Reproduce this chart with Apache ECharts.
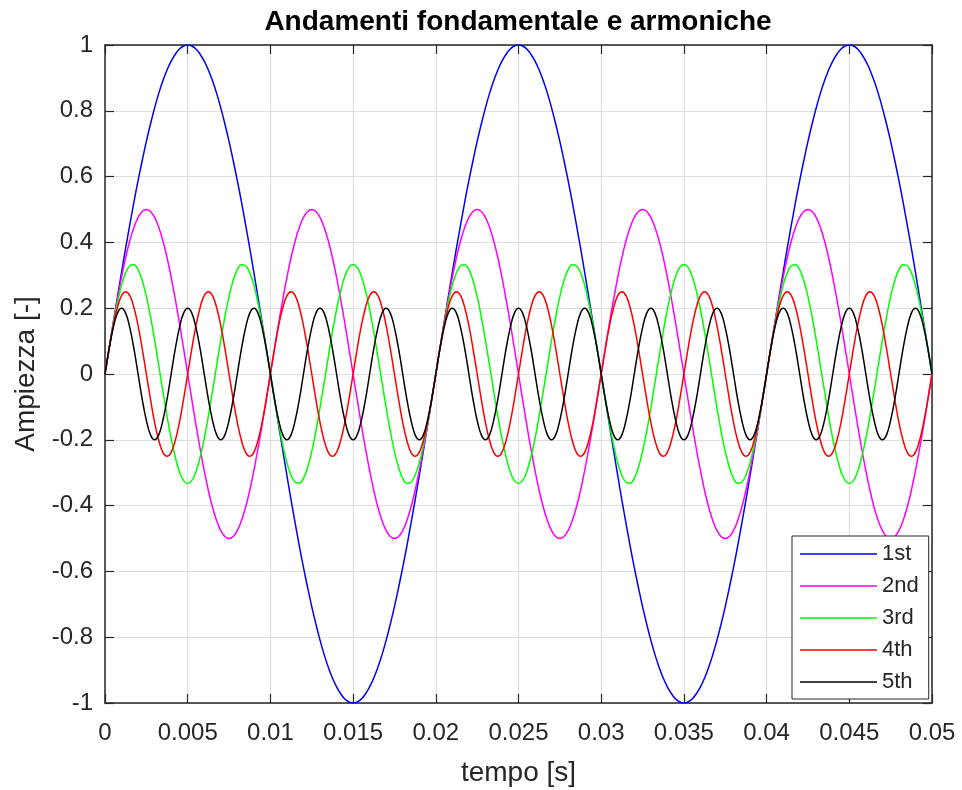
<!DOCTYPE html>
<html>
<head>
<meta charset="utf-8">
<script src="https://cdn.jsdelivr.net/npm/echarts@6/dist/echarts.min.js"></script>
<style>html,body{margin:0;padding:0;background:#fff;}#chart{width:962px;height:790px;}</style>
</head>
<body>
<div id="chart"></div>
<script>
const seriesNames = ['1st', '2nd', '3rd', '4th', '5th'];
const xTickLabels = ['0','0.005','0.01','0.015','0.02','0.025','0.03','0.035','0.04','0.045','0.05'];
const yTickLabels = ['-1','-0.8','-0.6','-0.4','-0.2','0','0.2','0.4','0.6','0.8','1'];

const time = [
0,.00025,.0005,.00075,.001,.00125,.0015,.00175,.002,.00225,.0025,.00275,.003,.00325,.0035,.00375,
.004,.00425,.0045,.00475,.005,.00525,.0055,.00575,.006,.00625,.0065,.00675,.007,.00725,.0075,.00775,
.008,.00825,.0085,.00875,.009,.00925,.0095,.00975,.01,.01025,.0105,.01075,.011,.01125,.0115,.01175,
.012,.01225,.0125,.01275,.013,.01325,.0135,.01375,.014,.01425,.0145,.01475,.015,.01525,.0155,.01575,
.016,.01625,.0165,.01675,.017,.01725,.0175,.01775,.018,.01825,.0185,.01875,.019,.01925,.0195,.01975,
.02,.02025,.0205,.02075,.021,.02125,.0215,.02175,.022,.02225,.0225,.02275,.023,.02325,.0235,.02375,
.024,.02425,.0245,.02475,.025,.02525,.0255,.02575,.026,.02625,.0265,.02675,.027,.02725,.0275,.02775,
.028,.02825,.0285,.02875,.029,.02925,.0295,.02975,.03,.03025,.0305,.03075,.031,.03125,.0315,.03175,
.032,.03225,.0325,.03275,.033,.03325,.0335,.03375,.034,.03425,.0345,.03475,.035,.03525,.0355,.03575,
.036,.03625,.0365,.03675,.037,.03725,.0375,.03775,.038,.03825,.0385,.03875,.039,.03925,.0395,.03975,
.04,.04025,.0405,.04075,.041,.04125,.0415,.04175,.042,.04225,.0425,.04275,.043,.04325,.0435,.04375,
.044,.04425,.0445,.04475,.045,.04525,.0455,.04575,.046,.04625,.0465,.04675,.047,.04725,.0475,.04775,
.048,.04825,.0485,.04875,.049,.04925,.0495,.04975,.05
];

const y1st = [
0,.078,.156,.233,.309,.383,.454,.523,.588,.649,.707,.760,.809,.853,.891,.924,.951,.972,.988,.997,1,.997,.988,.972,.951,.924,.891,.853,.809,.760,.707,.649,.588,.523,.454,.383,.309,.233,.156,.078,
0,-.078,-.156,-.233,-.309,-.383,-.454,-.523,-.588,-.649,-.707,-.760,-.809,-.853,-.891,-.924,-.951,-.972,-.988,-.997,-1,-.997,-.988,-.972,-.951,-.924,-.891,-.853,-.809,-.760,-.707,-.649,-.588,-.523,-.454,-.383,-.309,-.233,-.156,-.078,
0,.078,.156,.233,.309,.383,.454,.523,.588,.649,.707,.760,.809,.853,.891,.924,.951,.972,.988,.997,1,.997,.988,.972,.951,.924,.891,.853,.809,.760,.707,.649,.588,.523,.454,.383,.309,.233,.156,.078,
0,-.078,-.156,-.233,-.309,-.383,-.454,-.523,-.588,-.649,-.707,-.760,-.809,-.853,-.891,-.924,-.951,-.972,-.988,-.997,-1,-.997,-.988,-.972,-.951,-.924,-.891,-.853,-.809,-.760,-.707,-.649,-.588,-.523,-.454,-.383,-.309,-.233,-.156,-.078,
0,.078,.156,.233,.309,.383,.454,.523,.588,.649,.707,.760,.809,.853,.891,.924,.951,.972,.988,.997,1,.997,.988,.972,.951,.924,.891,.853,.809,.760,.707,.649,.588,.523,.454,.383,.309,.233,.156,.078,
0
];

const y2nd = [
0,.078,.155,.227,.294,.354,.405,.446,.476,.494,.5,.494,.476,.446,.405,.354,.294,.227,.155,.078,0,-.078,-.155,-.227,-.294,-.354,-.405,-.446,-.476,-.494,-.5,-.494,-.476,-.446,-.405,-.354,-.294,-.227,-.155,-.078,
0,.078,.155,.227,.294,.354,.405,.446,.476,.494,.5,.494,.476,.446,.405,.354,.294,.227,.155,.078,0,-.078,-.155,-.227,-.294,-.354,-.405,-.446,-.476,-.494,-.5,-.494,-.476,-.446,-.405,-.354,-.294,-.227,-.155,-.078,
0,.078,.155,.227,.294,.354,.405,.446,.476,.494,.5,.494,.476,.446,.405,.354,.294,.227,.155,.078,0,-.078,-.155,-.227,-.294,-.354,-.405,-.446,-.476,-.494,-.5,-.494,-.476,-.446,-.405,-.354,-.294,-.227,-.155,-.078,
0,.078,.155,.227,.294,.354,.405,.446,.476,.494,.5,.494,.476,.446,.405,.354,.294,.227,.155,.078,0,-.078,-.155,-.227,-.294,-.354,-.405,-.446,-.476,-.494,-.5,-.494,-.476,-.446,-.405,-.354,-.294,-.227,-.155,-.078,
0,.078,.155,.227,.294,.354,.405,.446,.476,.494,.5,.494,.476,.446,.405,.354,.294,.227,.155,.078,0,-.078,-.155,-.227,-.294,-.354,-.405,-.446,-.476,-.494,-.5,-.494,-.476,-.446,-.405,-.354,-.294,-.227,-.155,-.078,
0
];

const y3rd = [
0,.078,.151,.216,.270,.308,.329,.332,.317,.284,.236,.174,.103,.026,-.052,-.128,-.196,-.253,-.297,-.324,-.333,-.324,-.297,-.253,-.196,-.128,-.052,.026,.103,.174,.236,.284,.317,.332,.329,.308,.270,.216,.151,.078,
0,-.078,-.151,-.216,-.270,-.308,-.329,-.332,-.317,-.284,-.236,-.174,-.103,-.026,.052,.128,.196,.253,.297,.324,.333,.324,.297,.253,.196,.128,.052,-.026,-.103,-.174,-.236,-.284,-.317,-.332,-.329,-.308,-.270,-.216,-.151,-.078,
0,.078,.151,.216,.270,.308,.329,.332,.317,.284,.236,.174,.103,.026,-.052,-.128,-.196,-.253,-.297,-.324,-.333,-.324,-.297,-.253,-.196,-.128,-.052,.026,.103,.174,.236,.284,.317,.332,.329,.308,.270,.216,.151,.078,
0,-.078,-.151,-.216,-.270,-.308,-.329,-.332,-.317,-.284,-.236,-.174,-.103,-.026,.052,.128,.196,.253,.297,.324,.333,.324,.297,.253,.196,.128,.052,-.026,-.103,-.174,-.236,-.284,-.317,-.332,-.329,-.308,-.270,-.216,-.151,-.078,
0,.078,.151,.216,.270,.308,.329,.332,.317,.284,.236,.174,.103,.026,-.052,-.128,-.196,-.253,-.297,-.324,-.333,-.324,-.297,-.253,-.196,-.128,-.052,.026,.103,.174,.236,.284,.317,.332,.329,.308,.270,.216,.151,.078,
0
];

const y4th = [
0,.077,.147,.202,.238,.25,.238,.202,.147,.077,0,-.077,-.147,-.202,-.238,-.25,-.238,-.202,-.147,-.077,
0,.077,.147,.202,.238,.25,.238,.202,.147,.077,0,-.077,-.147,-.202,-.238,-.25,-.238,-.202,-.147,-.077,
0,.077,.147,.202,.238,.25,.238,.202,.147,.077,0,-.077,-.147,-.202,-.238,-.25,-.238,-.202,-.147,-.077,
0,.077,.147,.202,.238,.25,.238,.202,.147,.077,0,-.077,-.147,-.202,-.238,-.25,-.238,-.202,-.147,-.077,
0,.077,.147,.202,.238,.25,.238,.202,.147,.077,0,-.077,-.147,-.202,-.238,-.25,-.238,-.202,-.147,-.077,
0,.077,.147,.202,.238,.25,.238,.202,.147,.077,0,-.077,-.147,-.202,-.238,-.25,-.238,-.202,-.147,-.077,
0,.077,.147,.202,.238,.25,.238,.202,.147,.077,0,-.077,-.147,-.202,-.238,-.25,-.238,-.202,-.147,-.077,
0,.077,.147,.202,.238,.25,.238,.202,.147,.077,0,-.077,-.147,-.202,-.238,-.25,-.238,-.202,-.147,-.077,
0,.077,.147,.202,.238,.25,.238,.202,.147,.077,0,-.077,-.147,-.202,-.238,-.25,-.238,-.202,-.147,-.077,
0,.077,.147,.202,.238,.25,.238,.202,.147,.077,0,-.077,-.147,-.202,-.238,-.25,-.238,-.202,-.147,-.077,
0
];

const y5th = [
0,.077,.141,.185,.2,.185,.141,.077,0,-.077,-.141,-.185,-.2,-.185,-.141,-.077,
0,.077,.141,.185,.2,.185,.141,.077,0,-.077,-.141,-.185,-.2,-.185,-.141,-.077,
0,.077,.141,.185,.2,.185,.141,.077,0,-.077,-.141,-.185,-.2,-.185,-.141,-.077,
0,.077,.141,.185,.2,.185,.141,.077,0,-.077,-.141,-.185,-.2,-.185,-.141,-.077,
0,.077,.141,.185,.2,.185,.141,.077,0,-.077,-.141,-.185,-.2,-.185,-.141,-.077,
0,.077,.141,.185,.2,.185,.141,.077,0,-.077,-.141,-.185,-.2,-.185,-.141,-.077,
0,.077,.141,.185,.2,.185,.141,.077,0,-.077,-.141,-.185,-.2,-.185,-.141,-.077,
0,.077,.141,.185,.2,.185,.141,.077,0,-.077,-.141,-.185,-.2,-.185,-.141,-.077,
0,.077,.141,.185,.2,.185,.141,.077,0,-.077,-.141,-.185,-.2,-.185,-.141,-.077,
0,.077,.141,.185,.2,.185,.141,.077,0,-.077,-.141,-.185,-.2,-.185,-.141,-.077,
0,.077,.141,.185,.2,.185,.141,.077,0,-.077,-.141,-.185,-.2,-.185,-.141,-.077,
0,.077,.141,.185,.2,.185,.141,.077,0,-.077,-.141,-.185,-.2,-.185,-.141,-.077,
0,.077,.141,.185,.2,.185,.141,.077,0
];

const allValues = [y1st, y2nd, y3rd, y4th, y5th];
const colors = ['#0000ff', '#ff00ff', '#00ff00', '#ff0000', '#000000'];

const FONT = "'Liberation Sans', Arial, Helvetica, sans-serif";
const TXT = '#262626';
const AX = '#262626';

const chart = echarts.init(document.getElementById('chart'), null, {renderer: 'canvas'});

const series = seriesNames.map((name, s) => ({
  name: name,
  type: 'line',
  data: time.map((t, i) => [t, allValues[s][i]]),
  showSymbol: false,
  symbol: 'none',
  smooth: 0.4,
  lineStyle: {color: colors[s], width: 1.5},
  itemStyle: {color: colors[s]},
  emphasis: {disabled: true},
  animation: false,
  z: 2
}));

const baseX = {
  type: 'value', min: 0, max: 0.05, interval: 0.005
};
const baseY = {
  type: 'value', min: -1, max: 1, interval: 0.2
};

chart.setOption({
  animation: false,
  backgroundColor: '#ffffff',
  title: {
    text: 'Andamenti fondamentale e armoniche',
    left: 518,
    top: 8,
    padding: 0,
    textAlign: 'center',
    textStyle: {fontFamily: FONT, fontSize: 28, fontWeight: 'bold', color: '#000000'}
  },
  grid: {left: 105, top: 45, right: 30, bottom: 87, containLabel: false, outerBoundsMode: 'none'},
  legend: {
    orient: 'vertical',
    left: 792,
    top: 536,
    padding: [7, 10, 6, 8],
    icon: 'rect',
    itemWidth: 77,
    itemHeight: 1.5,
    itemGap: 10,
    backgroundColor: '#ffffff',
    borderColor: '#262626',
    borderWidth: 1,
    textStyle: {fontFamily: FONT, fontSize: 22, color: TXT, lineHeight: 22},
    data: seriesNames
  },
  xAxis: [
    Object.assign({}, baseX, {
      position: 'bottom',
      name: 'tempo [s]',
      nameLocation: 'middle',
      nameGap: 56,
      nameTextStyle: {fontFamily: FONT, fontSize: 28, color: TXT},
      axisLine: {show: true, onZero: false, lineStyle: {color: AX, width: 1.5}},
      axisTick: {show: true, inside: true, length: 9, lineStyle: {color: AX, width: 1.2}},
      axisLabel: {
        margin: 18, fontFamily: FONT, fontSize: 24, color: TXT,
        formatter: v => xTickLabels[Math.round(v / 0.005)]
      },
      splitLine: {show: true, lineStyle: {color: '#dfdfdf', width: 1}}
    }),
    Object.assign({}, baseX, {
      position: 'top',
      axisLine: {show: true, onZero: false, lineStyle: {color: AX, width: 1.5}},
      axisTick: {show: true, inside: true, length: 9, lineStyle: {color: AX, width: 1.2}},
      axisLabel: {show: false},
      splitLine: {show: false}
    })
  ],
  yAxis: [
    Object.assign({}, baseY, {
      position: 'left',
      name: 'Ampiezza [-]',
      nameLocation: 'middle',
      nameGap: 60,
      nameTextStyle: {fontFamily: FONT, fontSize: 28, color: TXT},
      axisLine: {show: true, onZero: false, lineStyle: {color: AX, width: 1.5}},
      axisTick: {show: true, inside: true, length: 9, lineStyle: {color: AX, width: 1.2}},
      axisLabel: {
        margin: 12, fontFamily: FONT, fontSize: 24, color: TXT,
        formatter: v => yTickLabels[Math.round((v + 1) / 0.2)]
      },
      splitLine: {show: true, lineStyle: {color: '#dfdfdf', width: 1}}
    }),
    Object.assign({}, baseY, {
      position: 'right',
      axisLine: {show: true, onZero: false, lineStyle: {color: AX, width: 1.5}},
      axisTick: {show: true, inside: true, length: 9, lineStyle: {color: AX, width: 1.2}},
      axisLabel: {show: false},
      splitLine: {show: false}
    })
  ],
  series: series
});
</script>
</body>
</html>
